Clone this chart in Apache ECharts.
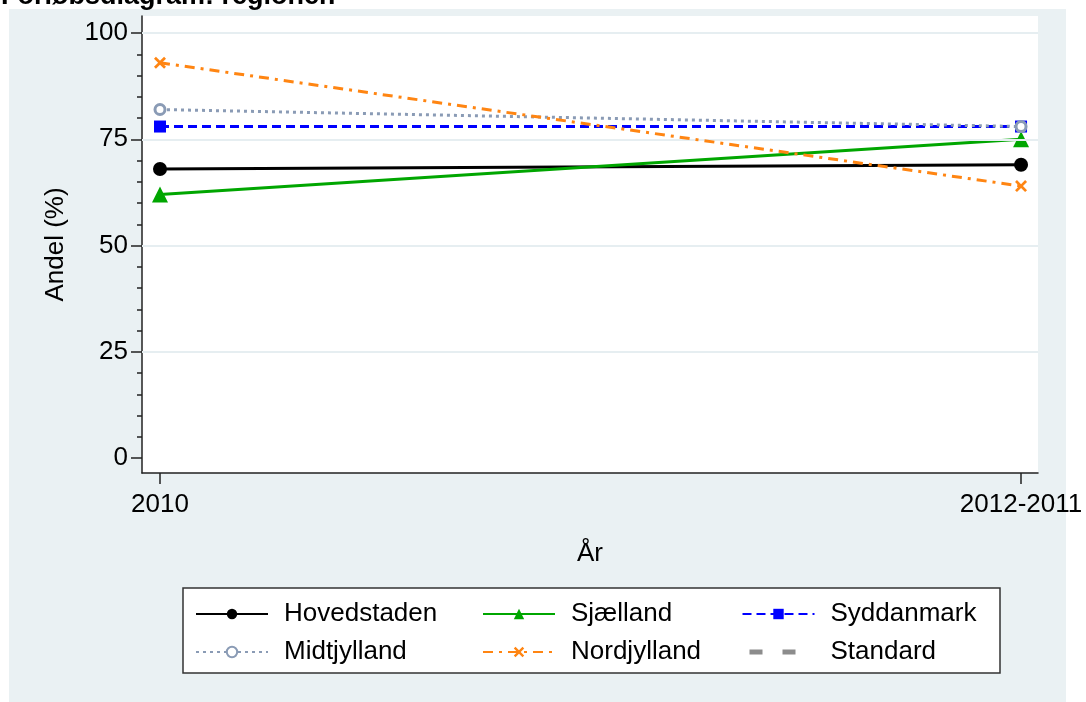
<!DOCTYPE html>
<html>
<head>
<meta charset="utf-8">
<script src="https://cdn.jsdelivr.net/npm/echarts@6/dist/echarts.min.js"></script>
<style>
html,body{margin:0;padding:0;background:#fff;}
#chart{width:1086px;height:702px;}
</style>
</head>
<body>
<div id="chart"></div>
<script>
const categories = ['2010', '2012-2011'];
const hovedstaden = [68, 69];
const sjaelland = [62, 75];
const syddanmark = [78, 78];
const midtjylland = [82, 78];
const nordjylland = [93, 64];
const standard = [];
const yTicks = [0, 25, 50, 75, 100];
const yMinorTicks = [0,5,10,15,20,25,30,35,40,45,50,55,60,65,70,75,80,85,90,95,100];
const gridValues = [25, 50, 75, 100];

const FONT = 'Liberation Sans, Arial, Helvetica, sans-serif';
const toXY = arr => arr.map((v, i) => [i, v]);
const crossPath = 'path://M0,1.6 L1.6,0 L5,3.4 L8.4,0 L10,1.6 L6.6,5 L10,8.4 L8.4,10 L5,6.6 L1.6,10 L0,8.4 L3.4,5 Z';

const chart = echarts.init(document.getElementById('chart'), null, {renderer: 'canvas'});

const baseSeries = (name, data, color, lineType, symbol, symbolSize, extra) => Object.assign({
  name: name,
  type: 'line',
  data: toXY(data),
  symbol: symbol,
  symbolSize: symbolSize,
  showSymbol: true,
  lineStyle: {color: color, width: 3, type: lineType},
  itemStyle: {color: color},
  emphasis: {disabled: true},
  animation: false
}, extra || {});

const legendCommon = {
  orient: 'vertical',
  itemWidth: 72,
  itemHeight: 13,
  itemGap: 10,
  padding: 0,
  top: 600,
  textStyle: {fontFamily: FONT, fontSize: 26, color: '#000', lineHeight: 28, padding: [0, 0, 0, 11]},
  selectedMode: false
};

const option = {
  backgroundColor: '#fff',
  animation: false,
  graphic: [
    {type: 'rect', z: -10, shape: {x: 9, y: 9, width: 1057, height: 693}, style: {fill: '#eaf1f3'}, silent: true},
    {type: 'rect', z: 0, shape: {x: 183, y: 588, width: 817, height: 85}, style: {fill: '#fff', stroke: '#333', lineWidth: 1.5}, silent: true},
    {type: 'text', z: 10, x: 1, y: -17, style: {text: 'Forløbsdiagram: regioner.', font: 'bold 27px ' + FONT, fill: '#000'}, silent: true}
  ],
  grid: {left: 142, right: 48, top: 16, bottom: 229, show: true, backgroundColor: '#fff', borderWidth: 0},
  legend: [
    Object.assign({}, legendCommon, {left: 195, data: ['Hovedstaden', 'Midtjylland']}),
    Object.assign({}, legendCommon, {left: 482, data: ['Sjælland', 'Nordjylland']}),
    Object.assign({}, legendCommon, {left: 740, data: ['Syddanmark', {name: 'Standard',
      itemStyle: {color: 'rgba(0,0,0,0)', borderWidth: 0, opacity: 0},
      lineStyle: {width: 5, color: '#8c8c8c', type: [13, 20], dashOffset: -7}}]})
  ],
  xAxis: {
    type: 'value',
    min: -0.0209,
    max: 1.0197,
    name: 'År',
    nameLocation: 'middle',
    nameGap: 68,
    nameTextStyle: {fontFamily: FONT, fontSize: 26, color: '#000'},
    axisLine: {show: true, onZero: false, lineStyle: {color: '#222', width: 1.5}},
    axisTick: {show: true, customValues: [0, 1], length: 11, lineStyle: {color: '#222', width: 1.5}},
    axisLabel: {customValues: [0, 1], formatter: v => categories[Math.round(v)], fontFamily: FONT, fontSize: 26, color: '#000', margin: 19},
    splitLine: {show: false}
  },
  yAxis: [
    {
      type: 'value',
      min: -3.5,
      max: 104,
      position: 'left',
      name: 'Andel (%)',
      nameLocation: 'middle',
      nameGap: 73,
      nameTextStyle: {fontFamily: FONT, fontSize: 26, color: '#000'},
      axisLine: {show: true, onZero: false, lineStyle: {color: '#222', width: 1.5}},
      axisTick: {show: true, customValues: yTicks, length: 11, lineStyle: {color: '#222', width: 1.5}},
      axisLabel: {customValues: yTicks, fontFamily: FONT, fontSize: 26, color: '#000', margin: 14},
      splitLine: {show: false}
    },
    {
      type: 'value',
      min: -3.5,
      max: 104,
      position: 'left',
      offset: 0,
      axisLine: {show: false, onZero: false},
      axisTick: {show: true, customValues: yMinorTicks, length: 5, lineStyle: {color: '#222', width: 1.5}},
      axisLabel: {show: false},
      splitLine: {show: false}
    }
  ],
  series: [
    {
      name: '__grid',
      type: 'line',
      data: [],
      silent: true,
      z: 1,
      markLine: {
        silent: true,
        symbol: 'none',
        animation: false,
        label: {show: false},
        lineStyle: {color: '#e6eef1', width: 2, type: 'solid'},
        data: gridValues.map(v => ({yAxis: v}))
      }
    },
    baseSeries('Hovedstaden', hovedstaden, '#000000', 'solid', 'circle', 14, {z: 3}),
    baseSeries('Sjælland', sjaelland, '#00a600', 'solid', 'triangle', 16, {z: 4}),
    baseSeries('Syddanmark', syddanmark, '#0000ff', [9, 5], 'rect', 12, {z: 5}),
    baseSeries('Midtjylland', midtjylland, '#8a9bb5', [3, 4], 'circle', 10, {z: 6,
      itemStyle: {color: '#ffffff', borderColor: '#8a9bb5', borderWidth: 3}}),
    baseSeries('Nordjylland', nordjylland, '#ff8512', [10, 6, 3, 6], crossPath, 12, {z: 7}),
    {
      name: 'Standard',
      type: 'line',
      data: standard,
      symbol: 'none',
      lineStyle: {color: '#8c8c8c', width: 5, type: [13, 20], dashOffset: -7},
      itemStyle: {color: '#8c8c8c'},
      z: 2
    }
  ]
};
chart.setOption(option);
</script>
</body>
</html>
